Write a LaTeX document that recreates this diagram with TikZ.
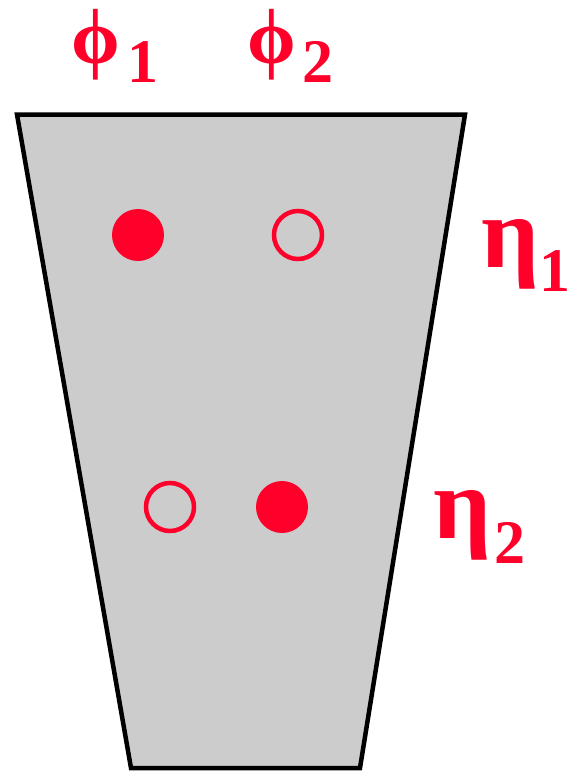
\documentclass[tikz,border=0pt]{standalone}
\usepackage{fontspec}
\setmainfont{Liberation Serif}
\definecolor{myred}{RGB}{255,0,42}
\definecolor{mygray}{RGB}{204,204,204}
\tikzset{
  plate/.style={draw=black,fill=mygray,line width=4.5pt,line join=miter},
  dotfull/.style={circle,fill=myred,inner sep=0pt,minimum size=52pt},
  dotopen/.style={circle,draw=myred,line width=4.5pt,inner sep=0pt,minimum size=48pt},
  phistyle/.style={text=myred,inner sep=0pt,anchor=base west,font=\fontsize{78}{78}\selectfont\bfseries},
  etastyle/.style={text=myred,inner sep=0pt,anchor=base west,font=\fontsize{102}{102}\selectfont\bfseries},
  subs/.style={text=myred,inner sep=0pt,anchor=base west,font=\fontsize{62}{62}\selectfont\bfseries}
}
\begin{document}
\begin{tikzpicture}[x=1pt,y=-1pt]
\useasboundingbox (0,0) rectangle (570,771);
\draw[plate] (17,114.5) coordinate (tl) -- (465,114.5) coordinate (tr) -- (360,768) coordinate (br) -- (131,768) coordinate (bl) -- cycle;
\node[dotfull] (a) at (138,235) {};
\node[dotopen] (b) at (298,235) {};
\node[dotopen] (c) at (170,507) {};
\node[dotfull] (d) at (282,507) {};
\node[phistyle] (phi1) at (71,63) {ϕ};
\node[subs] (phi1s) at (127,82) {1};
\node[phistyle] (phi2) at (247,63) {ϕ};
\node[subs] (phi2s) at (302,82) {2};
\node[etastyle] (eta1) at (481,267) {η};
\node[subs] (eta1s) at (539,291) {1};
\node[etastyle] (eta2) at (433,538) {η};
\node[subs] (eta2s) at (494,563) {2};
\end{tikzpicture}
\end{document}
